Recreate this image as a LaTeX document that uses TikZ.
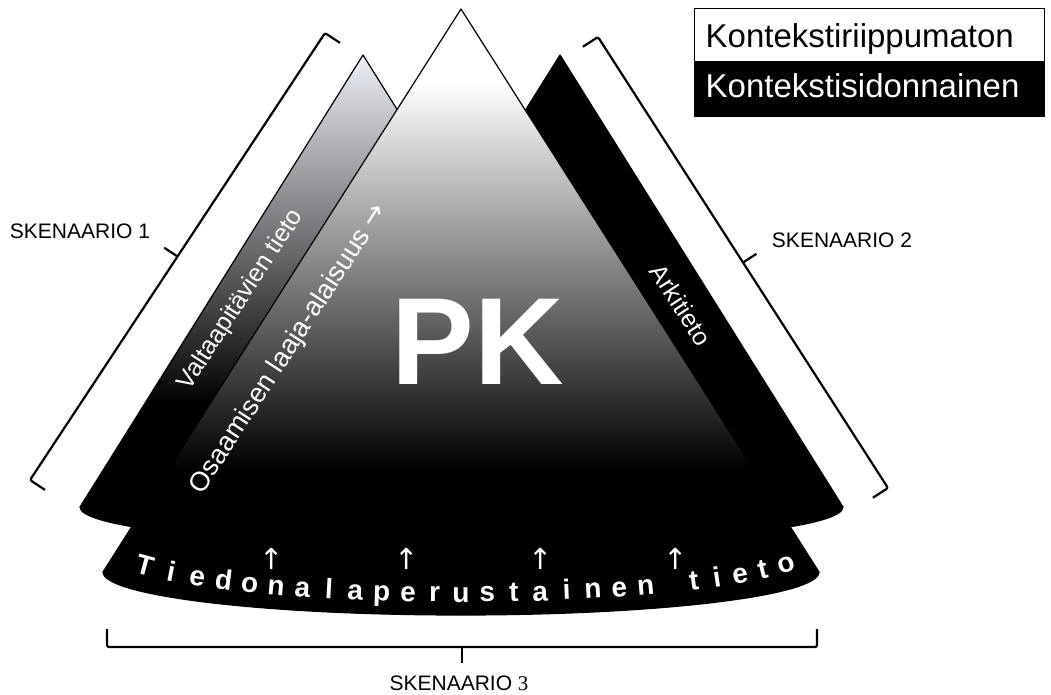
\documentclass[tikz,border=0pt]{standalone}
\usepackage{fontspec}
\setmainfont{Liberation Sans}
\newfontfamily\digitfont{Liberation Serif}
\newfontfamily\arrowfont{DejaVu Sans}
\usetikzlibrary{calc}

\definecolor{conetop}{RGB}{236,239,245}
\pgfdeclareverticalshading{pkfade}{100bp}{color(0bp)=(black); color(37bp)=(black); color(69bp)=(white); color(100bp)=(white)}
\pgfdeclareverticalshading{leftfade}{100bp}{color(0bp)=(black); color(39bp)=(black); color(75bp)=(conetop); color(100bp)=(conetop)}

\begin{document}
\begin{tikzpicture}[
        x=1pt, y=1pt,
        cone/.style={draw=black, line width=1.2pt, line join=round}, % cone outline
        bracket/.style={line width=2.2pt, rounded corners=2pt}, % scenario brackets
        conelabel/.style={text=white, inner sep=0pt, font=\fontsize{25}{25}\selectfont},
        pklabel/.style={text=white, inner sep=0pt, font=\fontsize{124}{124}\selectfont\bfseries},
        scenario/.style={inner sep=0pt, font=\fontsize{21}{21}\selectfont},
        legendbox/.style={draw, line width=1pt, minimum width=350, minimum height=53, inner sep=0pt},
        legendtext/.style={inner sep=0pt, anchor=base west, font=\fontsize{33}{33}\selectfont},
        baseletter/.style={text=white, inner sep=0pt, anchor=base, font=\fontsize{28}{28}\selectfont\bfseries},
        uparrow/.style={text=white, inner sep=0pt, font=\arrowfont\fontsize{29}{29}\selectfont}
        ]
    \useasboundingbox (0,0) rectangle (1051,694);

    % Side cones
    \shade[cone, shading=leftfade] (363,639) -- (80,187) arc[start angle=180, end angle=360, x radius=283, y radius=34] -- cycle;
    \fill[cone, fill=black] (560,639) -- (277,187) arc[start angle=180, end angle=360, x radius=283, y radius=34] -- cycle;

    % Main cone
    \shade[cone, shading=pkfade] (461,685) -- (103,122) arc[start angle=180, end angle=360, x radius=358, y radius=43] -- cycle;

    % Labels on the cones
    \node (valta) [conelabel, rotate=57] at (241,394) {Valtaapitävien tieto};
    \node (osaam) [conelabel, rotate=57, font=\fontsize{27}{27}\selectfont] at (289,345) {Osaamisen laaja-alaisuus {\arrowfont →}};
    \node (arki) [conelabel, rotate=-57] at (681,389) {Arkitieto};
    \node (pk) [pklabel] at (478,352) {PK};

    % Curved base text
    \foreach \ch [count=\i from 0] in {T,i,e,d,o,n,a,l,a,p,e,r,u,s,t,a,i,n,e,n}{
        \pgfmathsetmacro\xx{143+26.5*\i}
        \pgfmathsetmacro\uu{(\xx-461)/358}
        \pgfmathsetmacro\yy{142-50*sqrt(1-\uu*\uu)}
        \pgfmathsetmacro\rr{atan(50*\uu/(358*sqrt(1-\uu*\uu)))}
        \node (base\i) [baseletter, rotate=\rr] at (\xx,\yy) {\ch};
    }
    \foreach \ch [count=\i from 0] in {t,i,e,t,o}{
        \pgfmathsetmacro\xx{695+23.3*\i}
        \pgfmathsetmacro\uu{(\xx-461)/358}
        \pgfmathsetmacro\yy{142-50*sqrt(1-\uu*\uu)}
        \pgfmathsetmacro\rr{atan(50*\uu/(358*sqrt(1-\uu*\uu)))}
        \node (tieto\i) [baseletter, rotate=\rr] at (\xx,\yy) {\ch};
    }
    \foreach \ax [count=\i] in {272,407,541,676}
        \node (arrow\i) [uparrow] at (\ax,135) {↑};

    % Scenario brackets
    \coordinate (s1a) at (325,661);
    \coordinate (s1b) at (30,214);
    \coordinate (s2a) at (598,657);
    \coordinate (s2b) at (888,206);
    \coordinate (s3a) at (107,47);
    \coordinate (s3b) at (817,47);
    \coordinate (m1) at ($(s1a)!0.5!(s1b)$);
    \coordinate (m2) at ($(s2a)!0.5!(s2b)$);
    \coordinate (m3) at ($(s3a)!0.5!(s3b)$);

    \draw[bracket] ($(s1a)!18pt!90:(s1b)$) -- (s1a) -- (s1b) -- ($(s1b)!18pt!-90:(s1a)$);
    \draw[bracket] (m1) -- ($(m1)!16pt!-90:(s1b)$);
    \draw[bracket] ($(s2a)!18pt!-90:(s2b)$) -- (s2a) -- (s2b) -- ($(s2b)!18pt!90:(s2a)$);
    \draw[bracket] (m2) -- ($(m2)!16pt!90:(s2b)$);
    \draw[bracket] ($(s3a)!18pt!90:(s3b)$) -- (s3a) -- (s3b) -- ($(s3b)!18pt!-90:(s3a)$);
    \draw[bracket] (m3) -- ($(m3)!16pt!-90:(s3b)$);

    \node (sc1) [scenario] at (80,463) {SKENAARIO 1};
    \node (sc2) [scenario] at (842,454) {SKENAARIO 2};
    \node (sc3) [scenario] at (459,11) {SKENAARIO {\digitfont 3}};

    % Legend
    \node (legtop) [legendbox, fill=white] at (869,658.5) {};
    \node (legbot) [legendbox, fill=black, minimum height=55] at (869,604.5) {};
    \node (indep) [legendtext] at ([shift={(12,15)}]legtop.south west) {Kontekstiriippumaton};
    \node (dep) [legendtext, text=white] at ([shift={(12,20)}]legbot.south west) {Kontekstisidonnainen};
\end{tikzpicture}
\end{document}
